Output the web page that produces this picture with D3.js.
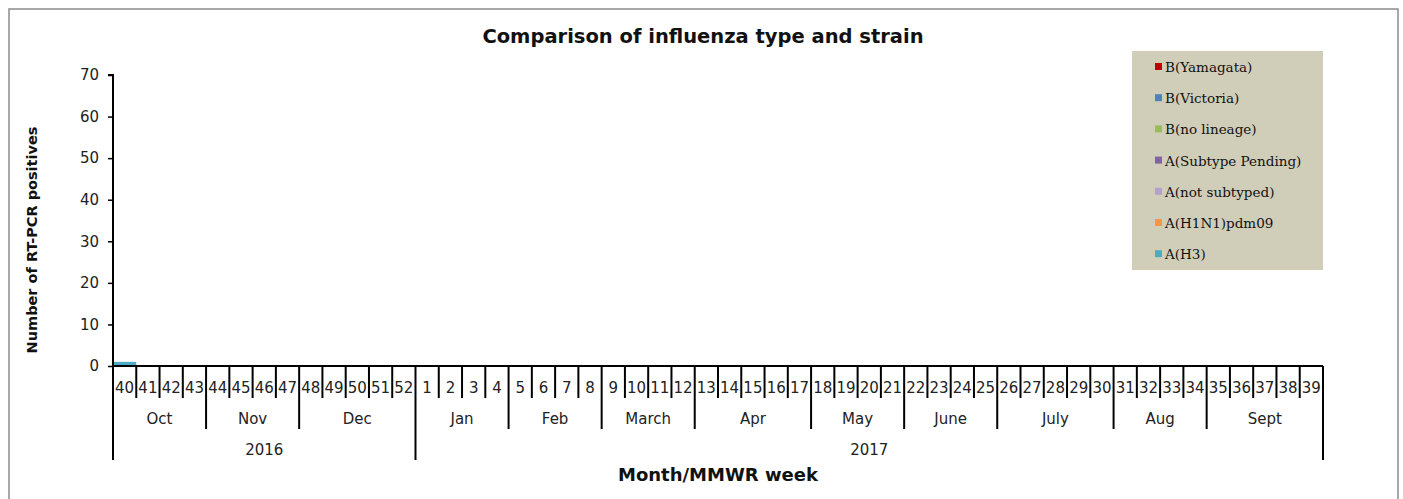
<!DOCTYPE html>
<html>
<head>
<meta charset="utf-8">
<script src="https://cdn.jsdelivr.net/npm/d3@7"></script>
<style>
  body { margin: 0; background: #fff; }
  svg { display: block; }
</style>
</head>
<body>
<div id="chart"></div>
<script>
// data
var weeks = [40,41,42,43,44,45,46,47,48,49,50,51,52,1,2,3,4,5,6,7,8,9,10,11,12,13,14,15,16,17,18,19,20,21,22,23,24,25,26,27,28,29,30,31,32,33,34,35,36,37,38,39];
var months = ["Oct","Nov","Dec","Jan","Feb","March","Apr","May","June","July","Aug","Sept"];
var monthWeeks = [4,4,5,4,4,4,5,4,4,5,4,5];
var years = ["2016","2017"];
var yearWeeks = [13,39];
var seriesNames = ["A(H3)","A(H1N1)pdm09","A(not subtyped)","A(Subtype Pending)","B(no lineage)","B(Victoria)","B(Yamagata)"];
var seriesColors = ["#4bacc6","#f79646","#b3a2c7","#8064a2","#9bbb59","#4f81bd","#c00000"];
var aH3          = [1,0,0,0,0,0,0,0,0,0,0,0,0,0,0,0,0,0,0,0,0,0,0,0,0,0,0,0,0,0,0,0,0,0,0,0,0,0,0,0,0,0,0,0,0,0,0,0,0,0,0,0];
var aH1N1        = [0,0,0,0,0,0,0,0,0,0,0,0,0,0,0,0,0,0,0,0,0,0,0,0,0,0,0,0,0,0,0,0,0,0,0,0,0,0,0,0,0,0,0,0,0,0,0,0,0,0,0,0];
var aNotSub      = [0,0,0,0,0,0,0,0,0,0,0,0,0,0,0,0,0,0,0,0,0,0,0,0,0,0,0,0,0,0,0,0,0,0,0,0,0,0,0,0,0,0,0,0,0,0,0,0,0,0,0,0];
var aPending     = [0,0,0,0,0,0,0,0,0,0,0,0,0,0,0,0,0,0,0,0,0,0,0,0,0,0,0,0,0,0,0,0,0,0,0,0,0,0,0,0,0,0,0,0,0,0,0,0,0,0,0,0];
var bNoLineage   = [0,0,0,0,0,0,0,0,0,0,0,0,0,0,0,0,0,0,0,0,0,0,0,0,0,0,0,0,0,0,0,0,0,0,0,0,0,0,0,0,0,0,0,0,0,0,0,0,0,0,0,0];
var bVictoria    = [0,0,0,0,0,0,0,0,0,0,0,0,0,0,0,0,0,0,0,0,0,0,0,0,0,0,0,0,0,0,0,0,0,0,0,0,0,0,0,0,0,0,0,0,0,0,0,0,0,0,0,0];
var bYamagata    = [0,0,0,0,0,0,0,0,0,0,0,0,0,0,0,0,0,0,0,0,0,0,0,0,0,0,0,0,0,0,0,0,0,0,0,0,0,0,0,0,0,0,0,0,0,0,0,0,0,0,0,0];
var yTicks = [0,10,20,30,40,50,60,70];

var seriesValues = [aH3, aH1N1, aNotSub, aPending, bNoLineage, bVictoria, bYamagata];

var svgWidth = 1403;
var svgHeight = 499;

var margin = { top: 75, left: 113, right: 80, bottom: 133 };
var width = 1323 - margin.left;
var height = 366 - margin.top;

var svg = d3.select("#chart")
  .append("svg")
  .attr("width", svgWidth)
  .attr("height", svgHeight);

// outer frame
svg.append("rect")
  .attr("x", 9).attr("y", 9)
  .attr("width", 1389).attr("height", 500)
  .attr("fill", "none")
  .attr("stroke", "#8c8c8c")
  .attr("stroke-width", 1.5);

var chartGroup = svg.append("g")
  .attr("transform", `translate(${margin.left}, ${margin.top})`);

// rows for stacking, one per week
var rows = weeks.map((w, i) => {
  var r = { idx: i };
  seriesNames.forEach((s, j) => { r[s] = seriesValues[j][i]; });
  return r;
});

var xScale = d3.scaleBand()
  .domain(d3.range(weeks.length))
  .range([0, width])
  .padding(0);

var yScale = d3.scaleLinear()
  .domain([0, 70])
  .range([height, 0]);

var stacked = d3.stack().keys(seriesNames)(rows);

chartGroup.selectAll(".series")
  .data(stacked)
  .enter()
  .append("g")
  .attr("fill", (d, i) => seriesColors[i])
  .selectAll("rect")
  .data(d => d)
  .enter()
  .append("rect")
  .attr("x", d => xScale(d.data.idx))
  .attr("y", d => yScale(d[1]))
  .attr("width", xScale.bandwidth())
  .attr("height", d => yScale(d[0]) - yScale(d[1]));

// y axis
var yAxis = d3.axisLeft(yScale).tickValues(yTicks).tickSize(5).tickPadding(9);
var yG = chartGroup.append("g").call(yAxis);
yG.select(".domain").attr("stroke", "#000").attr("stroke-width", 2).attr("d", `M-5,0H0V${height}`);
yG.selectAll(".tick line").attr("stroke", "#000").attr("stroke-width", 1.5);
yG.selectAll(".tick text")
  .attr("font-family", "DejaVu Sans")
  .attr("font-size", "15px")
  .attr("fill", "#222");

// x axis: base line
chartGroup.append("line")
  .attr("x1", 0).attr("x2", width)
  .attr("y1", height).attr("y2", height)
  .attr("stroke", "#000").attr("stroke-width", 2);

// boundaries for week / month / year
var weekDepth = 32, monthDepth = 63, yearDepth = 94;
var monthStarts = [], yearStarts = [];
var acc = 0;
monthWeeks.forEach(n => { monthStarts.push(acc); acc += n; });
acc = 0;
yearWeeks.forEach(n => { yearStarts.push(acc); acc += n; });

var boundaries = d3.range(weeks.length + 1).map(i => {
  var depth = weekDepth;
  if (monthStarts.includes(i)) depth = monthDepth;
  if (yearStarts.includes(i) || i === weeks.length) depth = yearDepth;
  return { i: i, depth: depth };
});

chartGroup.selectAll(".sep")
  .data(boundaries)
  .enter()
  .append("line")
  .attr("x1", d => d.i < weeks.length ? xScale(d.i) : width)
  .attr("x2", d => d.i < weeks.length ? xScale(d.i) : width)
  .attr("y1", height)
  .attr("y2", d => height + d.depth)
  .attr("stroke", "#000")
  .attr("stroke-width", 2);

chartGroup.selectAll(".weekLabel")
  .data(weeks)
  .enter()
  .append("text")
  .attr("x", (d, i) => xScale(i) + xScale.bandwidth() / 2)
  .attr("y", height + 27)
  .attr("text-anchor", "middle")
  .attr("font-family", "DejaVu Sans")
  .attr("font-size", "15px")
  .attr("fill", "#222")
  .text(d => d);

chartGroup.selectAll(".monthLabel")
  .data(months)
  .enter()
  .append("text")
  .attr("x", (d, i) => xScale(monthStarts[i]) + monthWeeks[i] * xScale.bandwidth() / 2)
  .attr("y", height + 58)
  .attr("text-anchor", "middle")
  .attr("font-family", "DejaVu Sans")
  .attr("font-size", "15px")
  .attr("fill", "#222")
  .text(d => d);

chartGroup.selectAll(".yearLabel")
  .data(years)
  .enter()
  .append("text")
  .attr("x", (d, i) => xScale(yearStarts[i]) + yearWeeks[i] * xScale.bandwidth() / 2)
  .attr("y", height + 89)
  .attr("text-anchor", "middle")
  .attr("font-family", "DejaVu Sans")
  .attr("font-size", "15px")
  .attr("fill", "#222")
  .text(d => d);

// titles
svg.append("text")
  .attr("x", 703).attr("y", 43)
  .attr("text-anchor", "middle")
  .attr("font-family", "DejaVu Sans")
  .attr("font-weight", "bold")
  .attr("font-size", "19.5px")
  .attr("fill", "#111")
  .text("Comparison of influenza type and strain");

svg.append("text")
  .attr("x", 718).attr("y", 481)
  .attr("text-anchor", "middle")
  .attr("font-family", "DejaVu Sans")
  .attr("font-weight", "bold")
  .attr("font-size", "18px")
  .attr("fill", "#111")
  .text("Month/MMWR week");

svg.append("text")
  .attr("transform", "translate(37, 240) rotate(-90)")
  .attr("text-anchor", "middle")
  .attr("font-family", "DejaVu Sans")
  .attr("font-weight", "bold")
  .attr("font-size", "14.5px")
  .attr("fill", "#111")
  .text("Number of RT-PCR positives");

// legend
var legend = svg.append("g").attr("transform", "translate(1132, 51)");
legend.append("rect")
  .attr("width", 191).attr("height", 219)
  .attr("fill", "#d0cdb8");

var legendOrder = seriesNames.slice().reverse();
var legendColors = seriesColors.slice().reverse();
var item = legend.selectAll(".item")
  .data(legendOrder)
  .enter()
  .append("g")
  .attr("transform", (d, i) => `translate(23, ${16 + i * 31.2})`);
item.append("rect")
  .attr("x", 0).attr("y", -4)
  .attr("width", 7).attr("height", 7)
  .attr("fill", (d, i) => legendColors[i]);
item.append("text")
  .attr("x", 10).attr("y", 5)
  .attr("font-family", "DejaVu Serif")
  .attr("font-size", "13.5px")
  .attr("fill", "#111")
  .text(d => d);
</script>
</body>
</html>
